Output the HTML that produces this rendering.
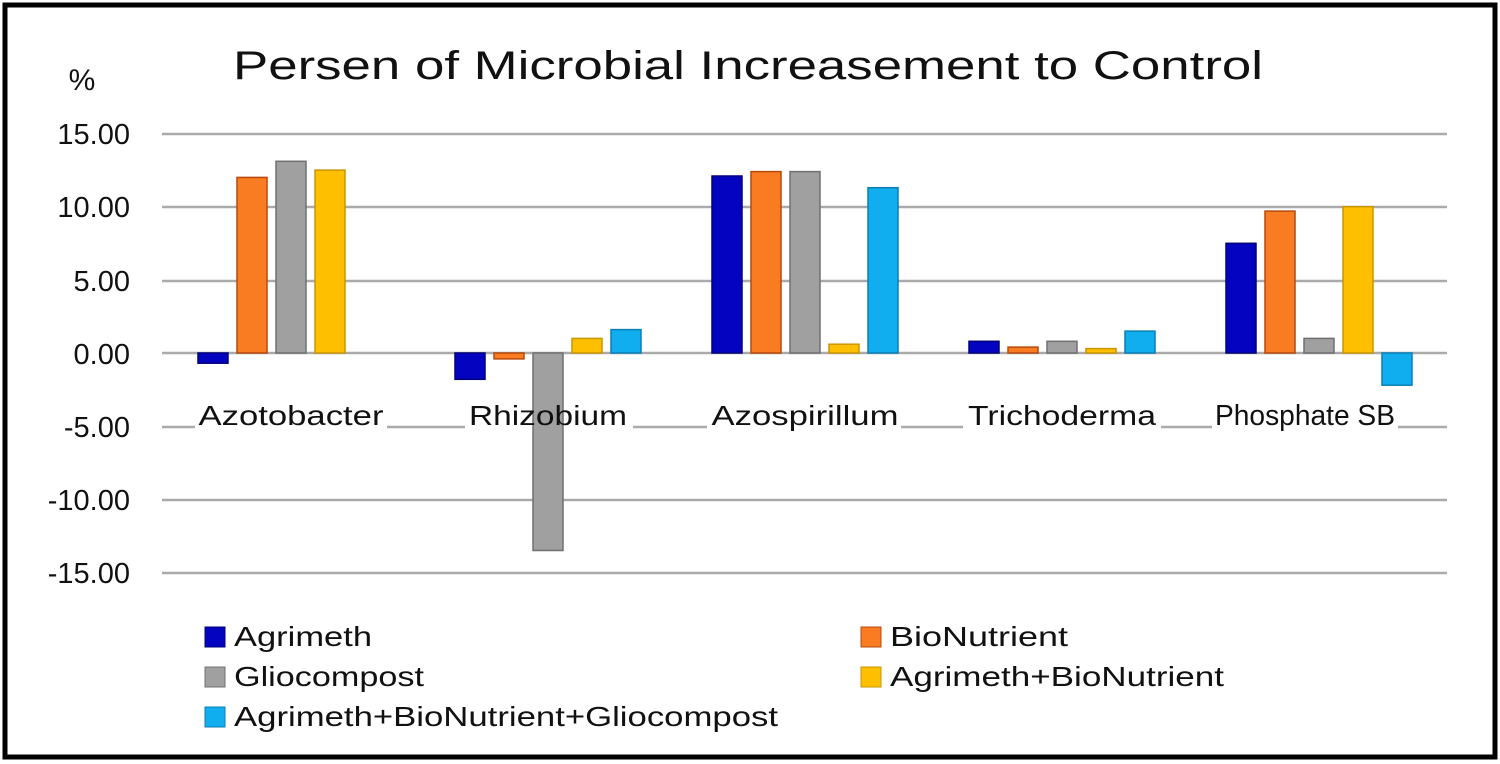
<!DOCTYPE html>
<html><head><style>html,body{margin:0;padding:0;background:#fff}svg{display:block}</style></head>
<body>
<svg width="1500" height="764" viewBox="0 0 1500 764" xmlns="http://www.w3.org/2000/svg" font-family="Liberation Sans, sans-serif">
<rect x="0" y="0" width="1500" height="764" fill="#fff"/>
<rect x="5" y="5" width="1490" height="752" fill="none" stroke="#000" stroke-width="5"/>
<text x="748" y="79" font-size="40" text-anchor="middle" textLength="1030" lengthAdjust="spacingAndGlyphs" fill="#111">Persen of Microbial Increasement to Control</text>
<text x="82" y="90" font-size="30" text-anchor="middle" fill="#111">%</text>
<g stroke="#aaa" stroke-width="2.5">
<line x1="162" y1="134" x2="1447" y2="134"/>
<line x1="162" y1="207" x2="1447" y2="207"/>
<line x1="162" y1="281" x2="1447" y2="281"/>
<line x1="162" y1="427" x2="1447" y2="427"/>
<line x1="162" y1="500" x2="1447" y2="500"/>
<line x1="162" y1="573" x2="1447" y2="573"/>
</g>
<g font-size="29" text-anchor="end" fill="#111">
<text x="130" y="144">15.00</text>
<text x="130" y="217">10.00</text>
<text x="130" y="291">5.00</text>
<text x="130" y="364">0.00</text>
<text x="130" y="437">-5.00</text>
<text x="130" y="510">-10.00</text>
<text x="130" y="583">-15.00</text>
</g>
<g fill="#fff">
<rect x="195" y="395" width="192" height="36"/>
<rect x="465" y="395" width="168" height="36"/>
<rect x="707" y="395" width="194" height="36"/>
<rect x="963" y="395" width="198" height="36"/>
<rect x="1212" y="395" width="186" height="36"/>
</g>
<line x1="162" y1="353" x2="1447" y2="353" stroke="#aaa" stroke-width="2.5"/>
<g stroke-width="1.5">
<g fill="#0303c0" stroke="#02027a">
<rect x="198" y="353" width="30" height="10.2"/>
<rect x="455" y="353" width="30" height="26.3"/>
<rect x="712" y="176" width="30" height="177"/>
<rect x="969" y="341.3" width="30" height="11.7"/>
<rect x="1226" y="243.3" width="30" height="109.7"/>
</g>
<g fill="#f97b22" stroke="#b64a0c">
<rect x="237" y="177.4" width="30" height="175.6"/>
<rect x="494" y="353" width="30" height="5.9"/>
<rect x="751" y="171.6" width="30" height="181.4"/>
<rect x="1008" y="347.1" width="30" height="5.9"/>
<rect x="1265" y="211.1" width="30" height="141.9"/>
</g>
<g fill="#a0a0a0" stroke="#707070">
<rect x="276" y="161.3" width="30" height="191.7"/>
<rect x="533" y="353" width="30" height="197.5"/>
<rect x="790" y="171.6" width="30" height="181.4"/>
<rect x="1047" y="341.3" width="30" height="11.7"/>
<rect x="1304" y="338.4" width="30" height="14.6"/>
</g>
<g fill="#fdbf00" stroke="#c99500">
<rect x="315" y="170.1" width="30" height="182.9"/>
<rect x="572" y="338.4" width="30" height="14.6"/>
<rect x="829" y="344.2" width="30" height="8.8"/>
<rect x="1086" y="348.6" width="30" height="4.4"/>
<rect x="1343" y="206.7" width="30" height="146.3"/>
</g>
<g fill="#10aeef" stroke="#0a7fb5">
<rect x="611" y="329.6" width="30" height="23.4"/>
<rect x="868" y="187.7" width="30" height="165.3"/>
<rect x="1125" y="331.1" width="30" height="21.9"/>
<rect x="1382" y="353" width="30" height="32.2"/>
</g>
</g>
<g font-size="28" text-anchor="middle" fill="#111">
<text x="291" y="425" textLength="185" lengthAdjust="spacingAndGlyphs">Azotobacter</text>
<text x="548" y="425" textLength="158" lengthAdjust="spacingAndGlyphs">Rhizobium</text>
<text x="805" y="425" textLength="187" lengthAdjust="spacingAndGlyphs">Azospirillum</text>
<text x="1062" y="425" textLength="188" lengthAdjust="spacingAndGlyphs">Trichoderma</text>
<text x="1305" y="425" font-size="29" textLength="180" lengthAdjust="spacingAndGlyphs">Phosphate SB</text>
</g>
<g font-size="28" fill="#111">
<rect x="205" y="627" width="20" height="20" fill="#0303c0" stroke="#02027a"/>
<text x="234" y="646" textLength="138" lengthAdjust="spacingAndGlyphs">Agrimeth</text>
<rect x="861" y="627" width="20" height="20" fill="#f97b22" stroke="#b64a0c"/>
<text x="890" y="646" textLength="178" lengthAdjust="spacingAndGlyphs">BioNutrient</text>
<rect x="205" y="667" width="20" height="20" fill="#a0a0a0" stroke="#707070"/>
<text x="234" y="686" textLength="190" lengthAdjust="spacingAndGlyphs">Gliocompost</text>
<rect x="861" y="667" width="20" height="20" fill="#fdbf00" stroke="#c99500"/>
<text x="890" y="686" textLength="334" lengthAdjust="spacingAndGlyphs">Agrimeth+BioNutrient</text>
<rect x="205" y="707" width="20" height="20" fill="#10aeef" stroke="#0a7fb5"/>
<text x="234" y="726" textLength="544" lengthAdjust="spacingAndGlyphs">Agrimeth+BioNutrient+Gliocompost</text>
</g>
</svg>
</body></html>
